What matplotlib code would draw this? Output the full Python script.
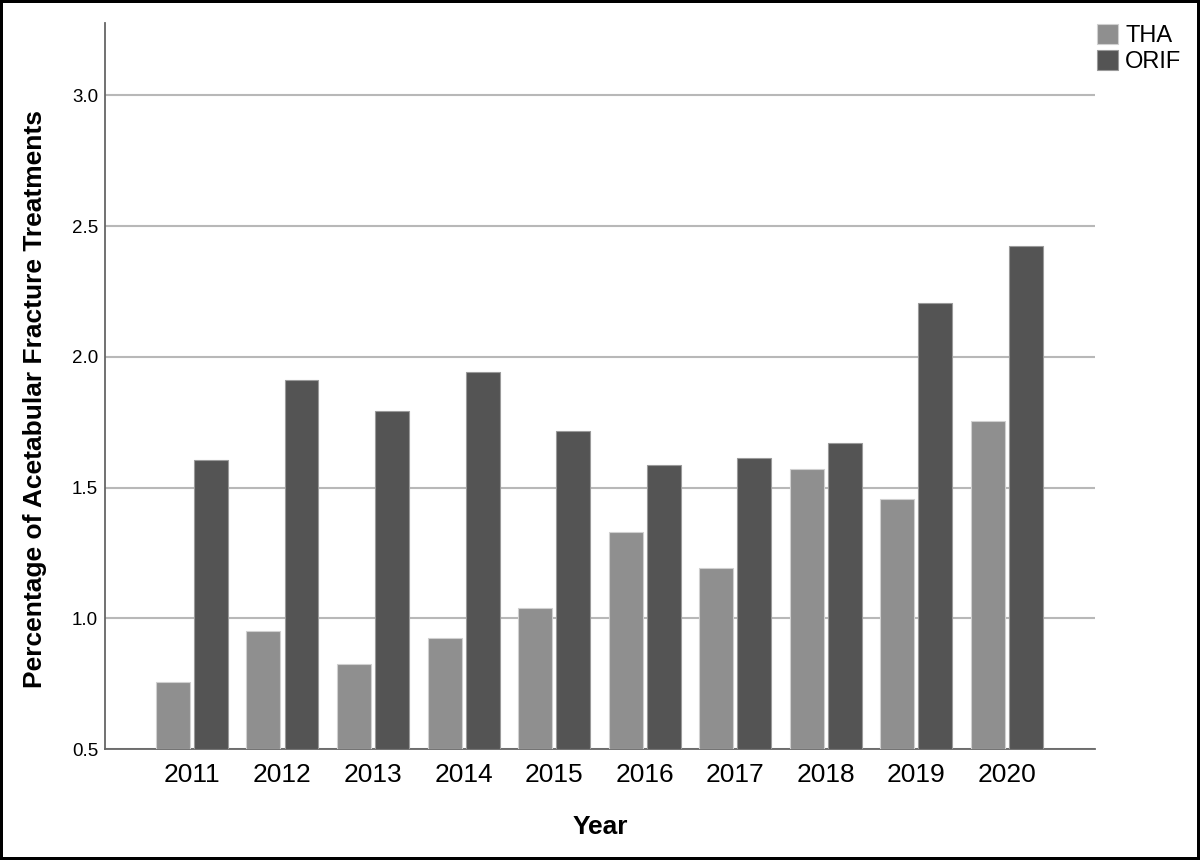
import numpy as np
import matplotlib
matplotlib.use("Agg")
import matplotlib.pyplot as plt

plt.rcParams['font.family'] = ['Liberation Sans', 'DejaVu Sans']

# Datos
years = ["2011", "2012", "2013", "2014", "2015", "2016", "2017", "2018", "2019", "2020"]
tha = [0.757, 0.953, 0.826, 0.924, 1.039, 1.332, 1.192, 1.570, 1.456, 1.756]
orif = [1.607, 1.910, 1.793, 1.943, 1.717, 1.588, 1.614, 1.672, 2.207, 2.425]
yticks = [0.5, 1.0, 1.5, 2.0, 2.5, 3.0]

fig = plt.figure(figsize=(12, 8.6), dpi=100)
fig.patch.set_edgecolor("black")
fig.patch.set_linewidth(3)
ax = fig.add_axes([0.0875, 0.1287, 0.8247, 0.8446])

x = np.arange(len(years))
w = 0.375
ax.bar(x - 0.21, np.array(tha) - 0.5, w, bottom=0.5, color="#8f8f8f",
       edgecolor="#d0d0d0", linewidth=0.8, label="THA", zorder=3)
ax.bar(x + 0.21, np.array(orif) - 0.5, w, bottom=0.5, color="#545454",
       edgecolor="#9a9a9a", linewidth=0.8, label="ORIF", zorder=3)

ax.set_xlim(-0.96, 9.97)
ax.set_ylim(0.5, 3.276)
ax.set_xticks(x)
ax.set_xticklabels(years, fontsize=19)
ax.set_yticks(yticks)
ax.set_yticklabels([f"{v:.1f}" for v in yticks], fontsize=13.5)
ax.tick_params(axis="both", length=0)
ax.tick_params(axis="x", pad=10)
ax.tick_params(axis="y", pad=5)
ax.yaxis.grid(True, color="#b8b8b8", linewidth=1.5, zorder=0)
ax.set_axisbelow(True)

for s in ["top", "right"]:
    ax.spines[s].set_visible(False)
for s in ["left", "bottom"]:
    ax.spines[s].set_color("#666666")
    ax.spines[s].set_linewidth(1.3)

fig.text(35 / 1200, 1 - 399 / 860, "Percentage of Acetabular Fracture Treatments",
         rotation=90, ha="center", va="center", fontsize=19, fontweight="bold")
fig.text(600 / 1200, 1 - 827 / 860, "Year", ha="center", va="center",
         fontsize=19, fontweight="bold")

fig.legend(loc="upper left", bbox_to_anchor=(1097 / 1200, 1 - 24 / 860),
           frameon=False, fontsize=17, handlelength=0.9, handleheight=0.9,
           handletextpad=0.3, labelspacing=0.15, borderaxespad=0, borderpad=0)

fig.savefig("out.png", dpi=100)
